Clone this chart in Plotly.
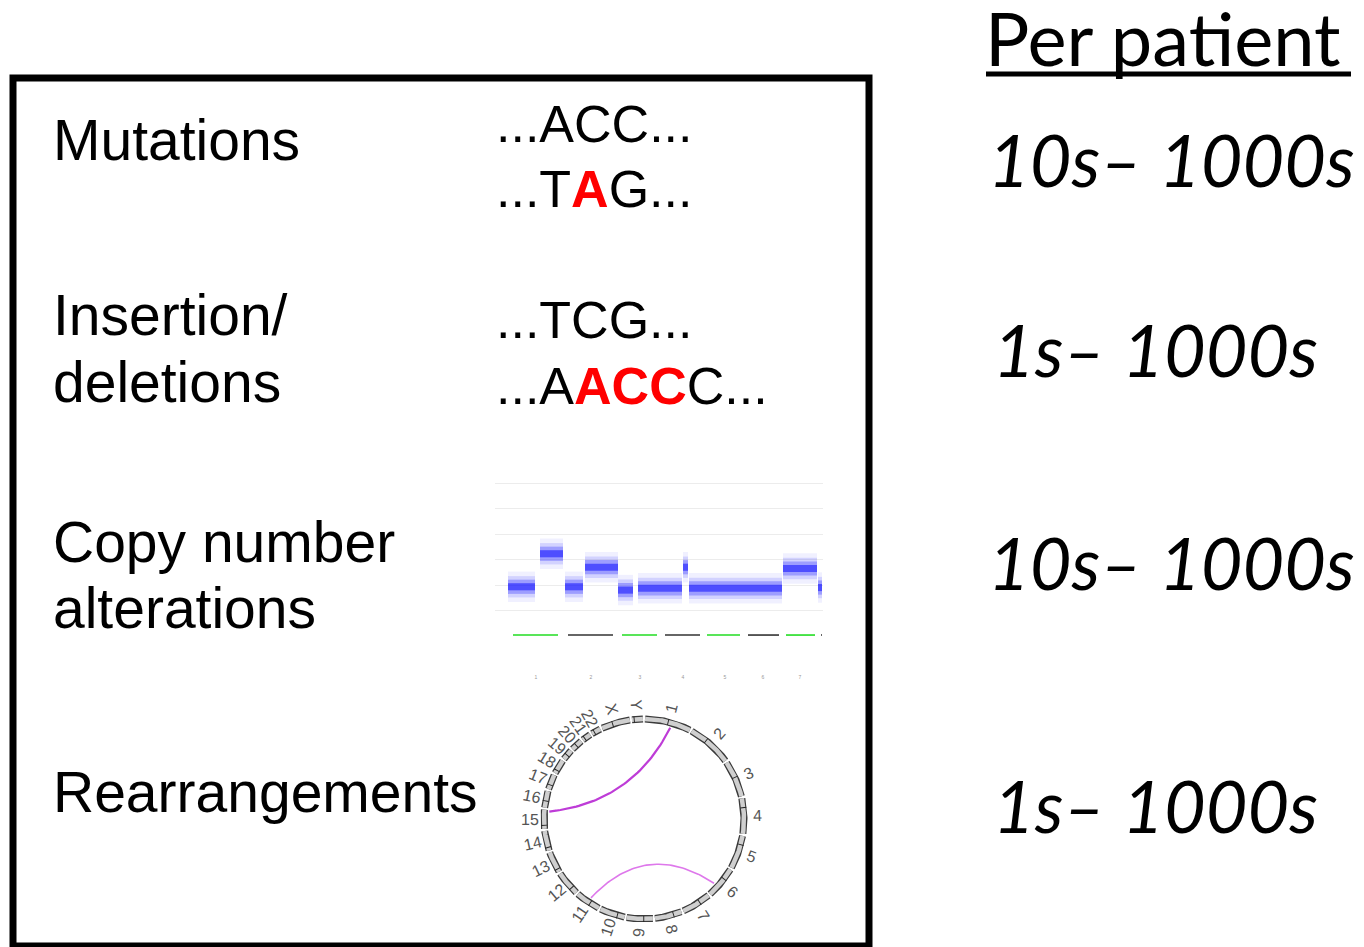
import numpy as np
import plotly.graph_objects as go

W, H = 1364, 947
OFF = 8  # default page margin of the html body

# ---------------- data ----------------
header = "Per patient"
event_types = [["Mutations"], ["Insertion/", "deletions"], ["Copy number", "alterations"], ["Rearrangements"]]
per_patient = ["10s– 1000s", "1s– 1000s", "10s– 1000s", "1s– 1000s"]

seq_lines = [
    "...ACC...",
    "...T<b><span style='color:#ff0000'>A</span></b>G...",
    "...TCG...",
    "...A<b><span style='color:#ff0000'>ACC</span></b>C...",
]

# copy-number profile (genome position in arbitrary units, copy number level)
cn_seg_start = [13, 45, 70, 90, 123, 143, 188, 194, 288, 323]
cn_seg_end = [40, 68, 88, 123, 138, 187, 193, 287, 322, 327]
cn_seg_level = [1.93, 3.23, 1.93, 2.70, 1.80, 1.87, 2.70, 1.87, 2.65, 1.90]
cn_grid_levels = [1, 2, 3, 4, 5, 6]
cn_chrom_ids = ["1", "2", "3", "4", "5", "6", "7", ""]
cn_chrom_start = [18, 73, 127, 170, 212, 253, 291, 326]
cn_chrom_end = [63, 118, 162, 205, 245, 284, 320, 327]
cn_chrom_label_pos = [41, 96, 145, 188, 230, 268, 305, None]

# circos (hg19 chromosome sizes, Mb)
chrom_names = [str(i) for i in range(1, 23)] + ["X", "Y"]
chrom_len_mb = [249, 243, 198, 191, 181, 171, 159, 146, 141, 136, 135, 134,
                115, 107, 103, 90, 81, 78, 59, 63, 48, 51, 155, 59]
centromere_mb = [125, 93, 91, 50, 48, 61, 60, 45, 49, 40, 53, 36,
                 17, 17, 19, 36, 24, 18, 27, 28, 13, 15, 60, 12]
sv_from_chrom = ["1", "6"]
sv_from_pos = [144, 114]
sv_to_chrom = ["15", "11"]
sv_to_pos = [95, 65]
sv_color = ["rgb(190,60,215)", "rgb(222,120,235)"]
sv_width = [2.2, 1.6]

# ---------------- helpers ----------------
def px(x):
    return (x - OFF) / W


def py(y):
    return 1 - (y - OFF) / H


ARIAL = "Liberation Sans, Arial, sans-serif"
LATO = "Lato, Open Sans, sans-serif"


def text_ann(text, x, baseline, fs, family, asc, desc, color="black", weight=None, **kw):
    yc = baseline - (asc - desc) / 2 * fs
    font = dict(size=fs, family=family, color=color)
    if weight is not None:
        font["weight"] = weight
    d = dict(text=text, x=px(x), y=py(yc), xref="paper", yref="paper",
             xanchor="left", yanchor="middle", showarrow=False, font=font)
    d.update(kw)
    return d


fig = go.Figure()
annotations = []
shapes = []

# ---------------- box + header ----------------
shapes.append(dict(type="rect", xref="paper", yref="paper",
                   x0=px(13), x1=px(869), y0=py(78), y1=py(946),
                   line=dict(color="black", width=7), fillcolor="rgba(0,0,0,0)"))
annotations.append(text_ann(header, 983, 66, 74, LATO, 0.987, 0.213))
shapes.append(dict(type="line", xref="paper", yref="paper",
                   x0=px(986), x1=px(1351), y0=py(74), y1=py(74),
                   line=dict(color="black", width=5)))

# ---------------- left labels ----------------
label_baselines = [[160], [335, 402], [562, 628], [812]]
for lines, bls in zip(event_types, label_baselines):
    for t, b in zip(lines, bls):
        annotations.append(text_ann(t, 51, b, 57, ARIAL, 0.905, 0.212))

seq_baselines = [142, 207, 338, 404]
for t, b in zip(seq_lines, seq_baselines):
    annotations.append(text_ann(t, 494, b, 52, ARIAL, 0.905, 0.212))

pp_x = [986, 991, 986, 991]
pp_baselines = [187, 377, 590, 833]
for t, x, b in zip(per_patient, pp_x, pp_baselines):
    annotations.append(text_ann("<i>" + t + "</i>", x, b, 72, LATO, 0.987, 0.213))

# ---------------- copy-number panel (xaxis / yaxis) ----------------
for s, e, lv in zip(cn_seg_start, cn_seg_end, cn_seg_level):
    for h, a in [(0.6, 0.06), (0.42, 0.12), (0.28, 0.25), (0.14, 0.5)]:
        fig.add_trace(go.Scatter(
            x=[s, e, e, s, s], y=[lv - h, lv - h, lv + h, lv + h, lv - h],
            mode="lines", fill="toself", line=dict(width=0),
            fillcolor=f"rgba(0,0,255,{a})", hoverinfo="skip", showlegend=False,
            xaxis="x", yaxis="y"))

bar_y = 0.03
for i, (s, e) in enumerate(zip(cn_chrom_start, cn_chrom_end)):
    col = "#22dd22" if i % 2 == 0 else "#333333"
    fig.add_trace(go.Scatter(x=[s, e], y=[bar_y, bar_y], mode="lines",
                             line=dict(color=col, width=1.6), hoverinfo="skip",
                             showlegend=False, xaxis="x", yaxis="y"))
lab_x = [p for p in cn_chrom_label_pos if p is not None]
lab_t = [c for c, p in zip(cn_chrom_ids, cn_chrom_label_pos) if p is not None]
fig.add_trace(go.Scatter(x=lab_x, y=[-1.66] * len(lab_x), mode="text", text=lab_t,
                         textfont=dict(size=5, color="#999999", family=ARIAL),
                         hoverinfo="skip", showlegend=False, xaxis="x", yaxis="y"))

# ---------------- circos panel (xaxis2 / yaxis2) ----------------
GAP = 1.2  # degrees between chromosomes
span = 360 - GAP * len(chrom_names)
total = sum(chrom_len_mb)
chrom_start_deg = []
acc = GAP / 2
for L in chrom_len_mb:
    chrom_start_deg.append(acc)
    acc += L / total * span + GAP


def ang(chrom, pos):
    i = chrom_names.index(chrom)
    return chrom_start_deg[i] + pos / total * span


def xy(deg, r):
    t = np.radians(deg)
    return r * np.sin(t), r * np.cos(t)


for i, (name, L, cen) in enumerate(zip(chrom_names, chrom_len_mb, centromere_mb)):
    a0 = chrom_start_deg[i]
    a1 = a0 + L / total * span
    t = np.linspace(a0, a1, 40)
    x, y = xy(t, 1.0)
    fig.add_trace(go.Scatter(x=x, y=y, mode="lines", line=dict(color="#3a3a3a", width=7),
                             hoverinfo="skip", showlegend=False, xaxis="x2", yaxis="y2"))
    fig.add_trace(go.Scatter(x=x, y=y, mode="lines", line=dict(color="#cfcfcf", width=4.5),
                             hoverinfo="skip", showlegend=False, xaxis="x2", yaxis="y2"))
    tc = np.linspace(ang(name, cen - 2.5), ang(name, cen + 2.5), 5)
    xc, yc = xy(tc, 1.0)
    fig.add_trace(go.Scatter(x=xc, y=yc, mode="lines", line=dict(color="#222222", width=6),
                             hoverinfo="skip", showlegend=False, xaxis="x2", yaxis="y2"))
    am = (a0 + a1) / 2
    lx, ly = xy(am, 1.14)
    ta = am - 90
    if ta > 90:
        ta -= 180
    annotations.append(dict(text=name, x=float(lx), y=float(ly), xref="x2", yref="y2",
                            showarrow=False, textangle=ta, xanchor="center", yanchor="middle",
                            font=dict(size=16, color="#555555", family=ARIAL)))

for fc, fp, tc_, tp, col, wd in zip(sv_from_chrom, sv_from_pos, sv_to_chrom, sv_to_pos,
                                     sv_color, sv_width):
    a0 = ang(fc, fp)
    a1 = ang(tc_, tp)
    d = (a1 - a0 + 180) % 360 - 180
    amid = a0 + d / 2
    p0 = np.array(xy(a0, 0.95))
    p2 = np.array(xy(a1, 0.95))
    c = np.array(xy(amid, 0.2))
    tt = np.linspace(0, 1, 60)[:, None]
    pts = (1 - tt) ** 2 * p0 + 2 * (1 - tt) * tt * c + tt ** 2 * p2
    fig.add_trace(go.Scatter(x=pts[:, 0], y=pts[:, 1], mode="lines",
                             line=dict(color=col, width=wd), hoverinfo="skip",
                             showlegend=False, xaxis="x2", yaxis="y2"))

# ---------------- layout ----------------
cn_px_per_unit = 25.4
fig.update_layout(
    width=W, height=H, margin=dict(l=0, r=0, t=0, b=0),
    paper_bgcolor="white", plot_bgcolor="rgba(0,0,0,0)",
    showlegend=False,
    annotations=annotations, shapes=shapes,
    xaxis=dict(domain=[px(495), px(823)], range=[0, 328], showgrid=False,
               zeroline=False, showticklabels=False, ticks="", showline=False),
    yaxis=dict(domain=[py(685), py(475)],
               range=[2 - (685 - 585) / cn_px_per_unit, 2 + (585 - 475) / cn_px_per_unit],
               tickvals=cn_grid_levels, showgrid=True, gridcolor="#ececec", gridwidth=1,
               zeroline=False, showticklabels=False, ticks="", showline=False),
    xaxis2=dict(domain=[px(506), px(782)], range=[-1.38, 1.38], visible=False),
    yaxis2=dict(domain=[py(946), py(681)], range=[-1.27, 1.38], visible=False),
)

fig.write_html("out.html")
